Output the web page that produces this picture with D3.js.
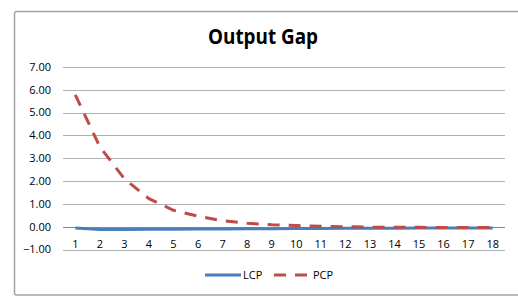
<!DOCTYPE html>
<html lang="en">
<head>
  <meta charset="UTF-8">
  <title>Output Gap</title>
  <script src="https://d3js.org/d3.v7.min.js"></script>
  <style>
    html, body { margin: 0; background: #fff; overflow: hidden; }
    svg { display: block; }
    text { font-family: "Open Sans", "Noto Sans", sans-serif; fill: #000; }
  </style>
</head>
<body>

<div id="chart"></div>

<script>
  // periods on the x axis
  const periods = d3.range(1, 19);
  // tick labels of the y axis
  const yTicks = [-1, 0, 1, 2, 3, 4, 5, 6, 7];

  // series values
  const lcp = [-0.06, -0.12, -0.12, -0.11, -0.11, -0.10, -0.10, -0.09, -0.09,
               -0.08, -0.08, -0.07, -0.07, -0.07, -0.06, -0.06, -0.06, -0.06];
  const pcp = [5.78, 3.50, 2.10, 1.23, 0.72, 0.46, 0.26, 0.15, 0.08,
               0.05, 0.02, 0.00, -0.02, -0.03, -0.03, -0.04, -0.04, -0.04];

  const width = 518;
  const height = 297;

  const svg = d3.select("#chart")
    .append("svg")
    .attr("width", width)
    .attr("height", height);

  // chart frame (its right side runs off the picture)
  svg.append("path")
    .attr("d", "M520,11.5 H16.5 Q14.5,11.5 14.5,13.5 V293 Q14.5,295 16.5,295 H520")
    .attr("fill", "none")
    .attr("stroke", "#a3a3a3")
    .attr("stroke-width", 1.5);

  // title
  svg.append("text")
    .attr("x", 263)
    .attr("y", 44)
    .attr("text-anchor", "middle")
    .attr("font-size", "21px")
    .attr("font-weight", "bold")
    .attr("textLength", 110)
    .attr("lengthAdjust", "spacingAndGlyphs")
    .text("Output Gap");

  const x = d3.scaleBand()
    .domain(periods)
    .range([63, 505]);

  const y = d3.scaleLinear()
    .domain([-1, 7])
    .range([249.5, 67]);

  // horizontal gridlines
  svg.append("g")
    .selectAll("line")
    .data(yTicks)
    .join("line")
    .attr("x1", 63)
    .attr("x2", 505)
    .attr("y1", d => Math.round(y(d)) + 0.5)
    .attr("y2", d => Math.round(y(d)) + 0.5)
    .attr("stroke", d => d === 0 ? "#8a8a8a" : "#b0b0b0")
    .attr("stroke-width", 1.2);

  // y axis labels
  svg.append("g")
    .selectAll("text")
    .data(yTicks)
    .join("text")
    .attr("x", 51)
    .attr("y", d => y(d))
    .attr("dy", "0.35em")
    .attr("text-anchor", "end")
    .attr("font-size", "11px")
    .text(d => d3.format(".2f")(d));

  // x axis labels
  svg.append("g")
    .selectAll("text")
    .data(periods)
    .join("text")
    .attr("x", d => x(d) + x.bandwidth() / 2)
    .attr("y", 244)
    .attr("dy", "0.35em")
    .attr("text-anchor", "middle")
    .attr("font-size", "11px")
    .text(d => d);

  const line = d3.line()
    .x((d, i) => x(periods[i]) + x.bandwidth() / 2)
    .y(d => y(d));

  svg.append("path")
    .datum(lcp)
    .attr("fill", "none")
    .attr("stroke", "#4a7ebb")
    .attr("stroke-width", 3)
    .attr("d", line);

  svg.append("path")
    .datum(pcp)
    .attr("fill", "none")
    .attr("stroke", "#be4b48")
    .attr("stroke-width", 3)
    .attr("stroke-dasharray", "12,9")
    .attr("d", line);

  // legend
  const legend = svg.append("g");
  legend.append("line")
    .attr("x1", 205).attr("x2", 241)
    .attr("y1", 275).attr("y2", 275)
    .attr("stroke", "#4a7ebb")
    .attr("stroke-width", 3);
  legend.append("text")
    .attr("x", 243).attr("y", 275)
    .attr("dy", "0.35em")
    .attr("font-size", "11px")
    .text("LCP");
  legend.append("line")
    .attr("x1", 274).attr("x2", 307)
    .attr("y1", 275).attr("y2", 275)
    .attr("stroke", "#be4b48")
    .attr("stroke-width", 3)
    .attr("stroke-dasharray", "12,9");
  legend.append("text")
    .attr("x", 313).attr("y", 275)
    .attr("dy", "0.35em")
    .attr("font-size", "11px")
    .text("PCP");
</script>

</body>
</html>
